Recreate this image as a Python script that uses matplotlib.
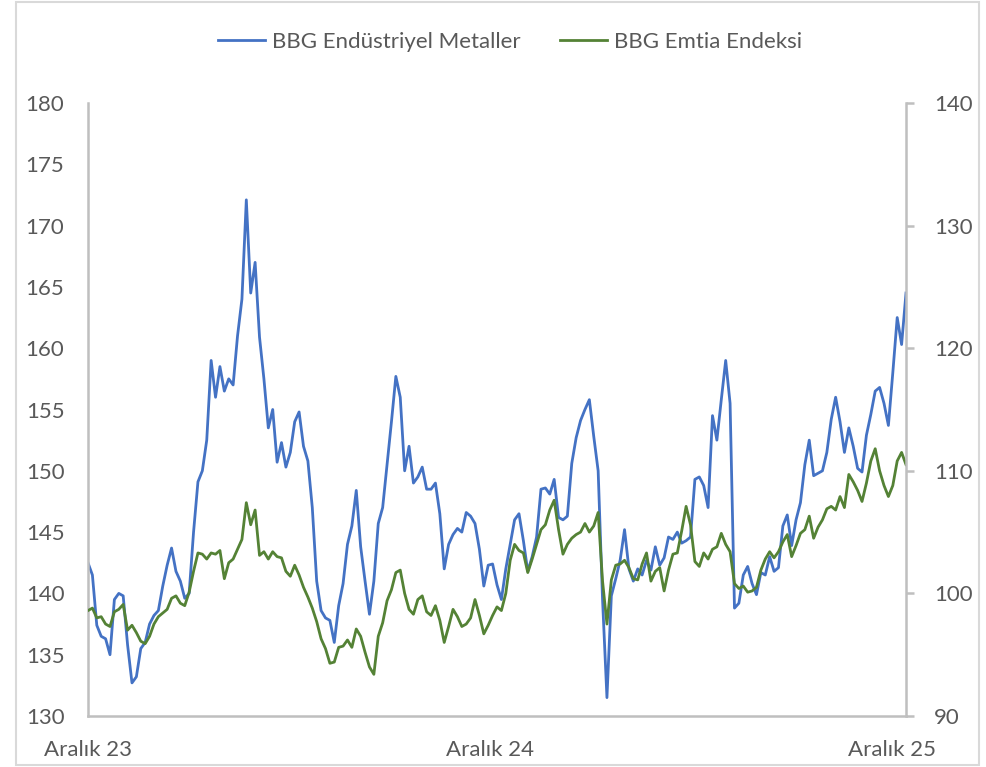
import matplotlib
matplotlib.use('Agg')
import matplotlib.pyplot as plt
import pandas as pd
from matplotlib.patches import Rectangle

# ---- data ----
start_date = '2023-12-01'
step = '4D'
x_tick_dates = ['2023-12-01', '2024-12-01', '2025-12-01']
x_tick_labels = ['Aralık 23', 'Aralık 24', 'Aralık 25']
x_end = '2025-12-14'
left_ticks = [130, 135, 140, 145, 150, 155, 160, 165, 170, 175, 180]
right_ticks = [90, 100, 110, 120, 130, 140]
series_names = ['BBG Endüstriyel Metaller', 'BBG Emtia Endeksi']

metals = [
    142.5, 141.5, 137.4, 136.5, 136.3, 135.0, 139.5, 140.0, 139.8, 135.8,
    132.7, 133.2, 135.5, 136.0, 137.5, 138.2, 138.6, 140.6, 142.3, 143.7,
    141.8, 141.0, 139.6, 140.0, 145.0, 149.1, 150.0, 152.5, 159.0, 156.0,
    158.5, 156.5, 157.5, 157.0, 161.0, 164.0, 172.1, 164.5, 167.0, 160.9,
    157.5, 153.5, 155.0, 150.7, 152.3, 150.3, 151.5, 154.0, 154.8, 152.0,
    150.8, 147.0, 141.0, 138.6, 138.0, 137.8, 136.0, 139.0, 140.8, 144.0,
    145.5, 148.4, 143.8, 141.0, 138.3, 141.0, 145.7, 147.0, 150.5, 154.0,
    157.7, 156.0, 150.0, 152.0, 149.0, 149.5, 150.3, 148.5, 148.5, 149.0,
    146.5, 142.0, 144.0, 144.8, 145.3, 145.0, 146.6, 146.3, 145.7, 143.6,
    140.6, 142.3, 142.4, 140.7, 139.5, 142.0, 144.0, 146.0, 146.5, 144.3,
    141.8, 143.0, 144.6, 148.5, 148.6, 148.1, 149.3, 146.2, 146.0, 146.3,
    150.6, 152.7, 154.1, 155.0, 155.8, 152.8, 150.0, 139.5, 131.5, 139.8,
    141.2, 142.7, 145.2, 142.0, 141.0, 142.0, 141.5, 142.7, 141.9, 143.8,
    142.3, 142.9, 144.6, 144.4, 145.0, 144.1, 144.3, 144.6, 149.3, 149.5,
    148.8, 147.0, 154.5, 152.5, 155.8, 159.0, 155.5, 138.8, 139.2, 141.5,
    142.2, 140.8, 139.9, 141.7, 141.5, 143.0, 141.8, 142.1, 145.5, 146.4,
    143.9, 146.0, 147.4, 150.5, 152.5, 149.6, 149.8, 150.0, 151.5, 154.2,
    156.0, 154.0, 151.5, 153.5, 152.0, 150.2, 149.9, 152.9, 154.6, 156.5,
    156.8, 155.5, 153.7, 158.0, 162.5, 160.3, 164.5,
]

commodity = [
    98.6, 98.8, 98.0, 98.1, 97.5, 97.3, 98.5, 98.7, 99.1, 97.0,
    97.4, 96.8, 96.1, 95.9, 96.5, 97.5, 98.1, 98.4, 98.7, 99.6,
    99.8, 99.2, 99.0, 100.1, 101.8, 103.3, 103.2, 102.8, 103.3, 103.2,
    103.5, 101.2, 102.5, 102.8, 103.6, 104.4, 107.4, 105.6, 106.8, 103.1,
    103.4, 102.8, 103.4, 103.0, 102.9, 101.8, 101.4, 102.3, 101.5, 100.5,
    99.7, 98.8, 97.7, 96.3, 95.5, 94.3, 94.4, 95.6, 95.7, 96.2,
    95.6, 97.1, 96.5, 95.2, 94.0, 93.4, 96.5, 97.6, 99.4, 100.3,
    101.7, 101.9, 100.0, 98.7, 98.3, 99.5, 99.8, 98.5, 98.2, 99.0,
    97.8, 96.0, 97.3, 98.7, 98.1, 97.3, 97.5, 98.0, 99.5, 98.2,
    96.7, 97.4, 98.2, 98.9, 98.6, 100.0, 102.7, 104.0, 103.5, 103.3,
    101.7, 102.8, 104.0, 105.2, 105.6, 106.8, 107.6, 105.2, 103.2, 104.0,
    104.5, 104.8, 105.0, 105.7, 105.0, 105.5, 106.6, 101.0, 97.5, 101.1,
    102.3, 102.4, 102.7, 102.1, 101.2, 101.1, 102.4, 103.3, 101.0, 101.8,
    102.1, 100.2, 101.9, 103.2, 103.3, 105.1, 107.1, 105.6, 102.6, 102.2,
    103.3, 102.8, 103.6, 103.8, 104.9, 104.0, 103.4, 100.8, 100.4, 100.6,
    100.1, 100.2, 100.5, 101.9, 102.8, 103.4, 102.9, 103.4, 104.2, 104.8,
    103.0, 103.9, 104.9, 105.2, 106.3, 104.5, 105.4, 106.0, 106.9, 107.1,
    106.8, 107.9, 107.0, 109.7, 109.1, 108.4, 107.5, 109.0, 110.8, 111.8,
    110.0, 108.8, 107.9, 108.8, 110.8, 111.5, 110.5,
]

# ---- styling ----
plt.rcParams['font.family'] = ['Lato', 'DejaVu Sans']
TEXT = '#595959'
AXIS = '#BFBFBF'
BLUE = '#4472C4'
GREEN = '#548235'
FS = 16

dates = pd.date_range(start_date, periods=len(metals), freq=step)

W, H = 986, 767
fig = plt.figure(figsize=(W / 100, H / 100), dpi=100)
fig.patch.set_facecolor('white')
ax = fig.add_axes([88 / W, 1 - 716 / H, (906 - 88) / W, (716 - 103) / H])
ax2 = ax.twinx()

l1, = ax.plot(dates, metals, color=BLUE, lw=2.0, label=series_names[0])
l2, = ax2.plot(dates, commodity, color=GREEN, lw=2.0, label=series_names[1])

ax.set_xlim(pd.Timestamp(start_date), pd.Timestamp(x_end))
ax.set_ylim(left_ticks[0], left_ticks[-1])
ax2.set_ylim(right_ticks[0], right_ticks[-1])
ax.set_yticks(left_ticks)
ax2.set_yticks(right_ticks)
ax.set_xticks(pd.to_datetime(x_tick_dates))
ax.set_xticklabels(x_tick_labels)

for a in (ax, ax2):
    for s in a.spines.values():
        s.set_visible(False)
        s.set_color(AXIS)
        s.set_linewidth(1.8)
ax.spines['left'].set_visible(True)
ax.spines['bottom'].set_visible(True)
ax2.spines['right'].set_visible(True)

ax.tick_params(axis='y', length=0, pad=17, labelsize=FS, labelcolor=TEXT)
ax.tick_params(axis='x', length=0, pad=17, labelsize=FS, labelcolor=TEXT)
ax2.tick_params(axis='y', length=6, width=1.8, color=AXIS, pad=14,
                labelsize=FS, labelcolor=TEXT)

fig.legend(handles=[l1, l2], loc='center', bbox_to_anchor=(510 / W, 1 - 42 / H),
           ncol=2, frameon=False, fontsize=FS, labelcolor=TEXT,
           handlelength=2.1, handletextpad=0.3, columnspacing=1.8)

fig.patches.append(Rectangle((16 / W, 2 / H), (979 - 16) / W, (765 - 2) / H,
                             transform=fig.transFigure, fill=False,
                             edgecolor='#D9D9D9', lw=1.5))

fig.savefig('out.png', dpi=100, facecolor='white')
